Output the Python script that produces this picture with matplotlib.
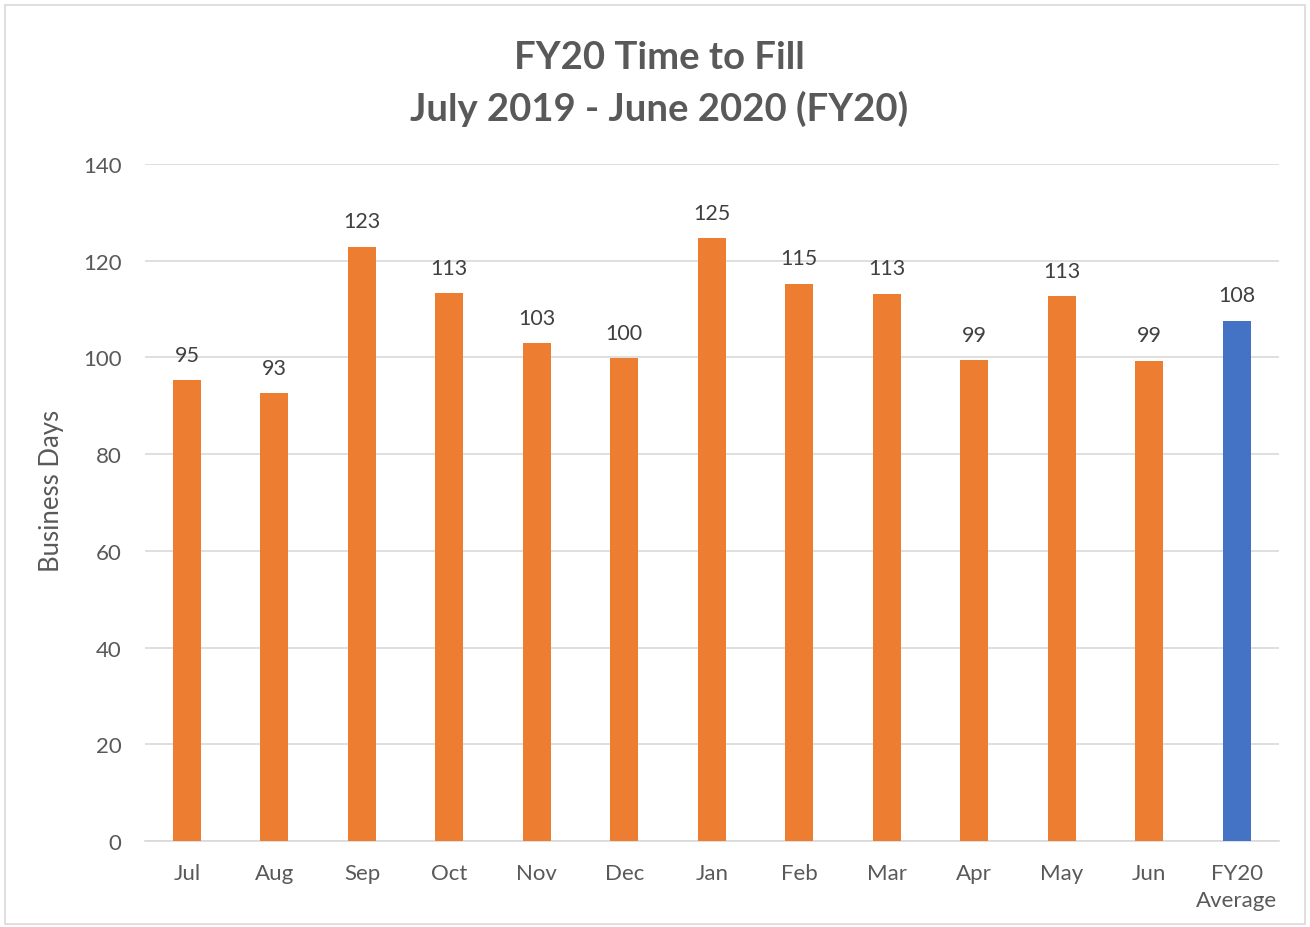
import matplotlib.pyplot as plt
from matplotlib.patches import Rectangle

months = ['Jul', 'Aug', 'Sep', 'Oct', 'Nov', 'Dec', 'Jan', 'Feb', 'Mar', 'Apr', 'May', 'Jun', 'FY20\nAverage']
days = [95.3, 92.6, 122.9, 113.3, 102.9, 99.8, 124.6, 115.2, 113.2, 99.4, 112.6, 99.3, 107.6]
colors = ['#ED7D31'] * 12 + ['#4472C4']

plt.rcParams['font.family'] = ['Lato', 'DejaVu Sans']
text_color = '#595959'

fig = plt.figure(figsize=(13.1, 9.28), dpi=100)
ax = fig.add_axes([0.1107, 0.0927, 0.866, 0.7295])

x = range(len(months))
bars = ax.bar(x, days, width=0.32, color=colors, zorder=3)
for xi, v in zip(x, days):
    ax.text(xi, v + 3.2, f'{v:.0f}', ha='center', va='bottom', fontsize=15.5, color='#404040')

ax.set_xlim(-0.48, 12.49)
ax.set_ylim(0, 140)
ax.set_yticks(range(0, 141, 20))
ax.set_xticks(list(x))
ax.set_xticklabels(months, fontsize=16, color=text_color, linespacing=1.45)
ax.tick_params(axis='y', labelsize=16, labelcolor=text_color, length=0, pad=17)
ax.tick_params(axis='x', length=0, pad=16)
ax.grid(axis='y', color='#D9D9D9', linewidth=1.2, zorder=0)
for s in ['top', 'right', 'left']:
    ax.spines[s].set_visible(False)
ax.spines['bottom'].set_color('#D9D9D9')
ax.spines['bottom'].set_linewidth(1.2)
fig.text(52 / 1310, 1 - 491 / 928, 'Business Days', rotation=90, ha='center', va='center',
         fontsize=18.5, color=text_color)

fig.text(0.503, 1 - 84 / 928, 'FY20 Time to Fill\nJuly 2019 - June 2020 (FY20)', ha='center', va='center',
         fontsize=27.5, fontweight='bold', color=text_color, linespacing=1.5)

fig.patches.append(Rectangle((0.004, 0.003), 0.992, 0.99, transform=fig.transFigure,
                             fill=False, edgecolor='#D9D9D9', linewidth=1.2))

fig.savefig('out.png', dpi=100)
